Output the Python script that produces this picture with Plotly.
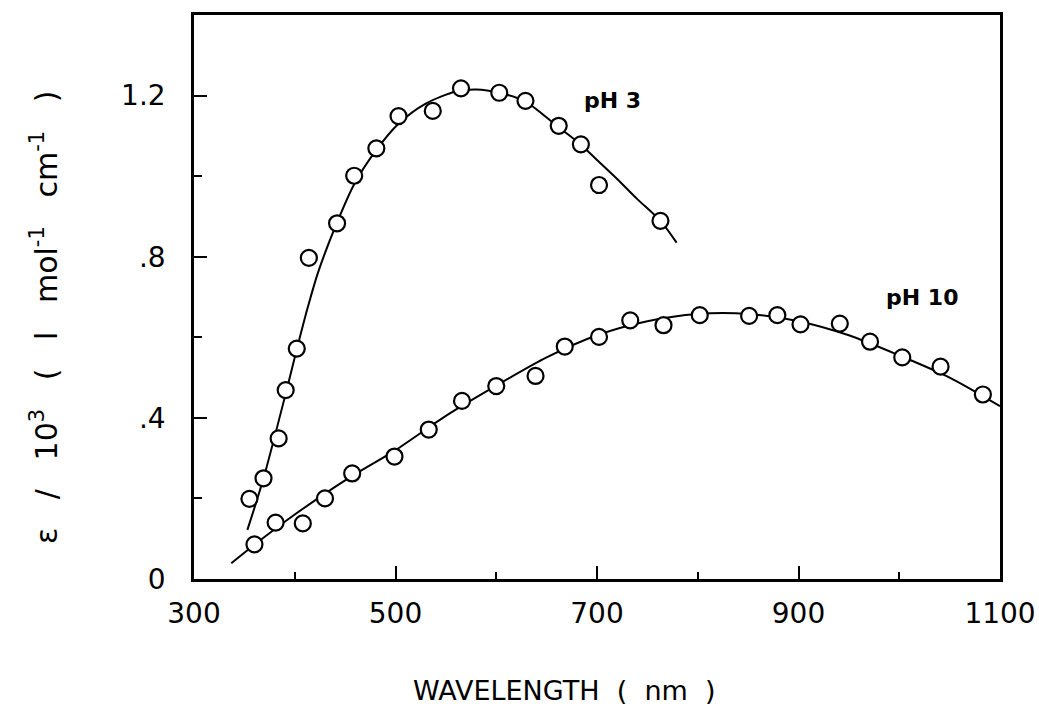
import plotly.graph_objects as go

# pH 3 measured points
ph3_wl = [355, 369, 384, 391, 402, 414, 442, 459, 481, 503, 537, 565, 603, 629, 662, 684, 702, 763]
ph3_eps = [0.199, 0.250, 0.349, 0.469, 0.572, 0.797, 0.883, 1.001, 1.069, 1.149, 1.162, 1.218,
           1.207, 1.187, 1.125, 1.079, 0.978, 0.889]

# pH 3 fitted curve
ph3_fit_wl = [353, 369, 391, 402, 413, 423, 442, 459, 481, 503, 530, 560, 580, 603, 629, 660, 684,
              700, 720, 740, 763, 779]
ph3_fit_eps = [0.122, 0.25, 0.46, 0.57, 0.675, 0.76, 0.885, 0.98, 1.065, 1.13, 1.18, 1.21, 1.215,
               1.207, 1.185, 1.125, 1.078, 1.04, 0.993, 0.943, 0.889, 0.835]

# pH 10 measured points
ph10_wl = [360, 381, 408, 430, 457, 499, 533, 566, 600, 639, 668, 702, 733, 766, 802, 851, 879,
           902, 941, 971, 1003, 1041, 1083]
ph10_eps = [0.086, 0.140, 0.138, 0.200, 0.262, 0.304, 0.371, 0.442, 0.479, 0.504, 0.577, 0.601,
            0.642, 0.630, 0.655, 0.653, 0.655, 0.632, 0.634, 0.589, 0.550, 0.527, 0.458]

# pH 10 fitted curve
ph10_fit_wl = [337, 360, 400, 450, 500, 550, 600, 650, 700, 750, 800, 850, 900, 950, 1000, 1050, 1100]
ph10_fit_eps = [0.039, 0.085, 0.16, 0.245, 0.32, 0.405, 0.48, 0.55, 0.605, 0.64, 0.658, 0.658,
                0.64, 0.605, 0.555, 0.50, 0.429]

x_ticks = [300, 500, 700, 900, 1100]
x_tick_labels = ["300", "500", "700", "900", "1100"]
y_ticks = [0, 0.4, 0.8, 1.2]
y_tick_labels = ["0", ".4", ".8", "1.2"]

FONT = "DejaVu Sans"

fig = go.Figure()
line_style = dict(color="black", width=2, shape="spline", smoothing=0.8)
marker_style = dict(symbol="circle", size=16, color="white", line=dict(color="black", width=2.2))

fig.add_trace(go.Scatter(x=ph3_fit_wl, y=ph3_fit_eps, mode="lines", line=line_style, hoverinfo="skip"))
fig.add_trace(go.Scatter(x=ph10_fit_wl, y=ph10_fit_eps, mode="lines", line=line_style, hoverinfo="skip"))
fig.add_trace(go.Scatter(x=ph3_wl, y=ph3_eps, mode="markers", marker=marker_style))
fig.add_trace(go.Scatter(x=ph10_wl, y=ph10_eps, mode="markers", marker=marker_style))

fig.update_layout(
    width=1039, height=706,
    margin=dict(l=194, r=39, t=15, b=127),
    paper_bgcolor="white", plot_bgcolor="white",
    showlegend=False,
    font=dict(family=FONT, color="black"),
    xaxis=dict(
        range=[300, 1100], tickvals=x_ticks, ticktext=x_tick_labels,
        ticks="inside", ticklen=13, tickwidth=2, tickcolor="black",
        showline=True, linewidth=2.5, linecolor="black", mirror=True,
        showgrid=False, zeroline=False, automargin=False,
        tickfont=dict(size=28, family=FONT), ticklabelstandoff=8,
        minor=dict(dtick=100, tick0=300, ticks="inside", ticklen=7, tickwidth=2, tickcolor="black", showgrid=False),
    ),
    yaxis=dict(
        range=[0, 1.4], tickvals=y_ticks, ticktext=y_tick_labels,
        ticks="inside", ticklen=13, tickwidth=2, tickcolor="black",
        showline=True, linewidth=2.5, linecolor="black", mirror=True,
        showgrid=False, zeroline=False, automargin=False,
        tickfont=dict(size=28, family=FONT), ticklabelstandoff=20,
        minor=dict(dtick=0.2, tick0=0, ticks="inside", ticklen=8, tickwidth=2, tickcolor="black", showgrid=False),
    ),
    annotations=[
        dict(text="<b>pH 3</b>", x=715, y=1.189, xref="x", yref="y", showarrow=False,
             font=dict(size=22, family=FONT)),
        dict(text="<b>pH 10</b>", x=1023, y=0.70, xref="x", yref="y", showarrow=False,
             font=dict(size=22, family=FONT)),
        dict(text="WAVELENGTH  (  nm  )", x=(564 - 194) / 806, y=(579 - 690) / 564,
             xref="paper", yref="paper", showarrow=False, xanchor="center", yanchor="middle",
             font=dict(size=27, family=FONT)),
        dict(text="ε   /   10<sup>3</sup>   (   l   mol<sup>-1</sup>   cm<sup>-1</sup>   )",
             x=(44 - 194) / 806, y=(579 - 318) / 564, xref="paper", yref="paper",
             showarrow=False, textangle=-90, xanchor="center", yanchor="middle",
             font=dict(size=30, family=FONT)),
    ],
)

fig.write_html("out.html", config={"displayModeBar": False},
               post_script="document.body.style.margin='0px';")
